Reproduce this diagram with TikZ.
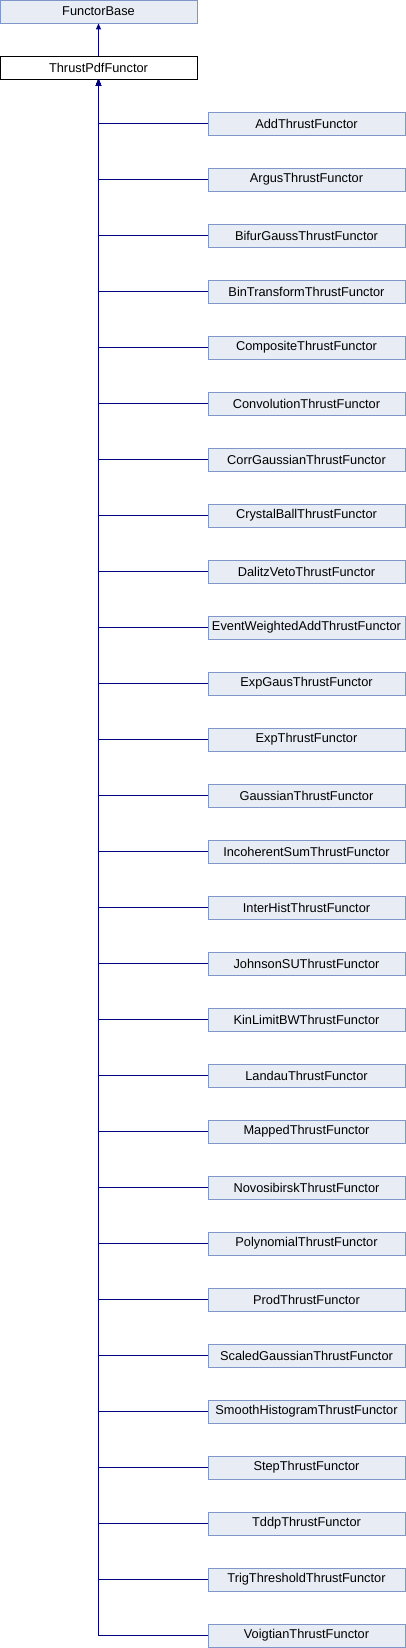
\documentclass[tikz,border=0pt]{standalone}
\usepackage{fontspec}
\setmainfont{Liberation Sans}
\usetikzlibrary{arrows.meta, positioning}
\definecolor{boxfill}{HTML}{E8ECF5}
\definecolor{boxline}{HTML}{7F96C8}
\definecolor{edgeblue}{HTML}{000080}
\tikzset{
  cls/.style={rectangle, draw=boxline, fill=boxfill, line width=0.9pt, minimum width=197pt, minimum height=23pt, inner sep=0pt, align=center, font=\fontsize{12.8}{14}\selectfont},
  cur/.style={cls, draw=black, fill=white},
  inh/.style={-{Triangle[length=6pt,width=5pt]}, draw=edgeblue, line width=1pt},
}
\begin{document}
\begin{tikzpicture}[x=1pt, y=-1pt]
\useasboundingbox (0,0) rectangle (406,1648);
\node[cls] (base) at (98.5,11.5) {FunctorBase};
\node[cur] (pdf) at (98.5,67.5) {ThrustPdfFunctor};
\draw[inh] (pdf) -- (base);
% derived classes
\foreach \nm [count=\i from 0] in {Add,Argus,BifurGauss,BinTransform,Composite,Convolution,CorrGaussian,CrystalBall,DalitzVeto,EventWeightedAdd,ExpGaus,Exp,Gaussian,IncoherentSum,InterHist,JohnsonSU,KinLimitBW,Landau,Mapped,Novosibirsk,Polynomial,Prod,ScaledGaussian,SmoothHistogram,Step,Tddp,TrigThreshold,Voigtian}{
  \node[cls] (d\i) at (306.5,123.5+56*\i) {\nm ThrustFunctor};
  \draw[inh] (d\i.west) -| (pdf.south);
}
\end{tikzpicture}
\end{document}
